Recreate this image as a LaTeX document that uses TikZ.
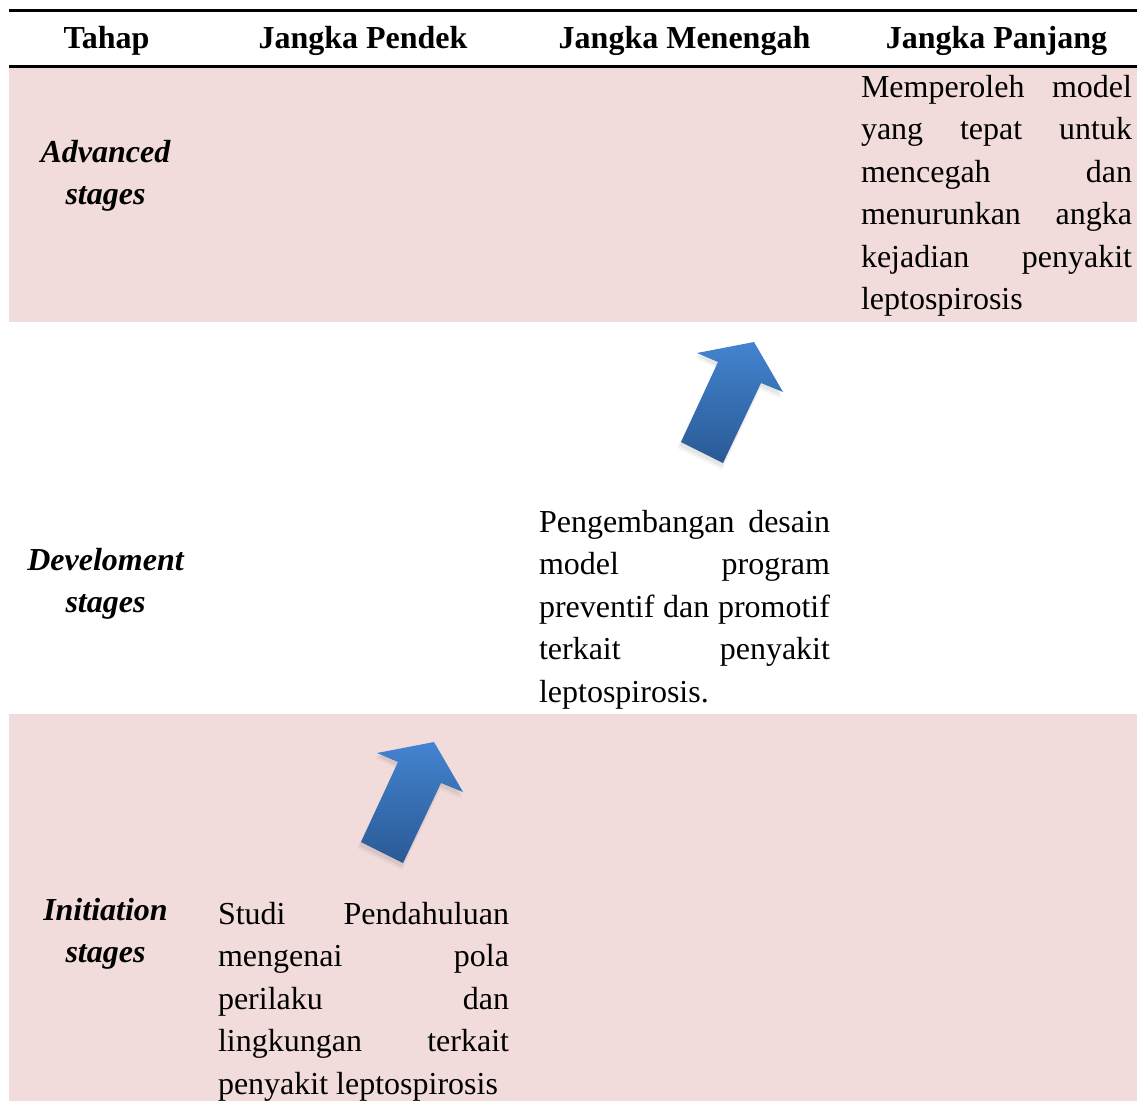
\documentclass[tikz,border=0pt]{standalone}
\usepackage{fontspec}
\setmainfont{Liberation Serif}
\definecolor{bandpink}{HTML}{F2DBDB}
\definecolor{arrtop}{HTML}{4383D0}
\definecolor{arrbot}{HTML}{2A5A95}
\tikzset{
  txt/.style={inner sep=0pt, outer sep=0pt, font=\fontsize{32}{42.5}\selectfont},
  head/.style={txt, anchor=base, font=\fontsize{32}{42.5}\selectfont\bfseries},
  stagelbl/.style={txt, anchor=base, font=\fontsize{32}{42.5}\selectfont\bfseries\itshape},
  bodyl/.style={txt, anchor=base west},
  rulebar/.style={line width=3.2pt},
  bigarrow/.pic={
    \fill[black, opacity=0.04] (695,358) -- (752,348) -- (782,399) -- (760,390) -- (722,470) -- (677,448) -- (716,368) -- cycle;
    \fill[black, opacity=0.06] (696,356) -- (753,345) -- (782,396) -- (760,387) -- (722,467) -- (679,446) -- (717,366) -- cycle;
    \shade[top color=arrtop, bottom color=arrbot] (697,353) -- (754,342) -- (783,392) -- (761,383) -- (723,463) -- (681,442) -- (718,362) -- cycle;
  }
}
\begin{document}
\begin{tikzpicture}[x=1pt, y=-1pt]
\useasboundingbox[fill=white] (0,0) rectangle (1137,1101);
% bands
\fill[bandpink] (9,68) rectangle (1137,322);
\fill[bandpink] (9,714) rectangle (1137,1101);
% rules
\draw[rulebar] (9,10.6) -- (1137,10.6);
\draw[rulebar] (9,66.6) -- (1137,66.6);
% header
\node[head] (h1) at (106.5,48) {Tahap};
\node[head] (h2) at (363,48) {Jangka Pendek};
\node[head] (h3) at (684.5,48) {Jangka Menengah};
\node[head] (h4) at (996.5,48) {Jangka Panjang};
% stage labels
\node[stagelbl] (s1a) at (105.5,162) {Advanced};
\node[stagelbl] (s1b) at (105.5,204.5) {stages};
\node[stagelbl] (s2a) at (105.5,570) {Develoment};
\node[stagelbl] (s2b) at (105.5,612.5) {stages};
\node[stagelbl] (s3a) at (105.5,920) {Initiation};
\node[stagelbl] (s3b) at (105.5,962.5) {stages};
% long term text
\node[bodyl] (p1) at (861,97) {\makebox[271pt][s]{Memperoleh model}};
\node[bodyl] (p2) at (861,139.5) {\makebox[271pt][s]{yang tepat untuk}};
\node[bodyl] (p3) at (861,182) {\makebox[271pt][s]{mencegah dan}};
\node[bodyl] (p4) at (861,224.5) {\makebox[271pt][s]{menurunkan angka}};
\node[bodyl] (p5) at (861,267) {\makebox[271pt][s]{kejadian penyakit}};
\node[bodyl] (p6) at (861,309.5) {leptospirosis};
% mid term text
\node[bodyl] (m1) at (539,532) {\makebox[291pt][s]{Pengembangan desain}};
\node[bodyl] (m2) at (539,574.5) {\makebox[291pt][s]{model program}};
\node[bodyl] (m3) at (539,617) {\makebox[291pt][s]{preventif dan promotif}};
\node[bodyl] (m4) at (539,659.5) {\makebox[291pt][s]{terkait penyakit}};
\node[bodyl] (m5) at (539,702) {leptospirosis.};
% short term text
\node[bodyl] (k1) at (218,924) {\makebox[291pt][s]{Studi Pendahuluan}};
\node[bodyl] (k2) at (218,966.5) {\makebox[291pt][s]{mengenai pola}};
\node[bodyl] (k3) at (218,1009) {\makebox[291pt][s]{perilaku dan}};
\node[bodyl] (k4) at (218,1051.5) {\makebox[291pt][s]{lingkungan terkait}};
\node[bodyl] (k5) at (218,1094) {penyakit leptospirosis};
% arrows
\pic (arrA) at (0,0) {bigarrow};
\pic (arrB) at (-320,400) {bigarrow};
\end{tikzpicture}
\end{document}
